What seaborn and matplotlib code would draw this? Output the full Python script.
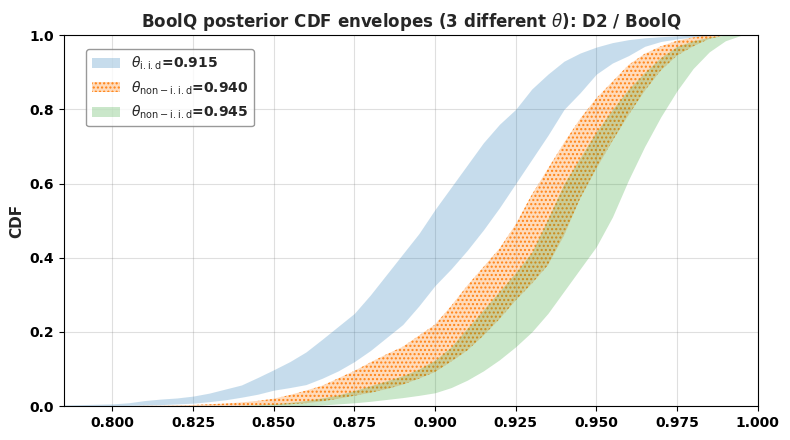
import numpy as np
import matplotlib
matplotlib.use("Agg")
import matplotlib.pyplot as plt
import seaborn as sns
from matplotlib.colors import to_rgba

# grille des seuils
x_grid = [0.785, 0.790, 0.795, 0.800, 0.805, 0.810, 0.815, 0.820, 0.825, 0.830,
          0.835, 0.840, 0.845, 0.850, 0.855, 0.860, 0.865, 0.870, 0.875, 0.880,
          0.885, 0.890, 0.895, 0.900, 0.905, 0.910, 0.915, 0.920, 0.925, 0.930,
          0.935, 0.940, 0.945, 0.950, 0.955, 0.960, 0.965, 0.970, 0.975, 0.980,
          0.985, 0.990, 0.995, 1.000]

iid_hi = [0.003, 0.004, 0.005, 0.006, 0.009, 0.015, 0.019, 0.022, 0.027, 0.035,
          0.046, 0.057, 0.077, 0.098, 0.120, 0.146, 0.180, 0.215, 0.250, 0.300,
          0.355, 0.410, 0.465, 0.530, 0.590, 0.650, 0.710, 0.760, 0.800, 0.855,
          0.895, 0.930, 0.952, 0.968, 0.980, 0.988, 0.993, 0.996, 0.998, 1.000,
          1.000, 1.000, 1.000, 1.000]
iid_lo = [0.000, 0.000, 0.001, 0.001, 0.002, 0.003, 0.004, 0.006, 0.008, 0.012,
          0.017, 0.024, 0.032, 0.043, 0.050, 0.058, 0.075, 0.095, 0.120, 0.150,
          0.185, 0.220, 0.270, 0.325, 0.370, 0.420, 0.475, 0.535, 0.600, 0.665,
          0.730, 0.800, 0.845, 0.895, 0.925, 0.945, 0.970, 0.983, 0.990, 0.995,
          0.999, 1.000, 1.000, 1.000]

n940_hi = [0.000, 0.000, 0.000, 0.000, 0.000, 0.001, 0.001, 0.002, 0.003, 0.005,
           0.007, 0.010, 0.014, 0.020, 0.030, 0.042, 0.055, 0.075, 0.095, 0.118,
           0.140, 0.160, 0.190, 0.220, 0.270, 0.325, 0.375, 0.425, 0.490, 0.570,
           0.640, 0.710, 0.775, 0.830, 0.875, 0.920, 0.950, 0.970, 0.985, 0.994,
           1.000, 1.000, 1.000, 1.000]
n940_lo = [0.000, 0.000, 0.000, 0.000, 0.000, 0.000, 0.000, 0.000, 0.000, 0.000,
           0.001, 0.001, 0.002, 0.003, 0.005, 0.008, 0.013, 0.020, 0.028, 0.036,
           0.046, 0.058, 0.074, 0.092, 0.120, 0.150, 0.190, 0.235, 0.285, 0.330,
           0.380, 0.460, 0.560, 0.640, 0.715, 0.785, 0.850, 0.905, 0.945, 0.970,
           0.990, 1.000, 1.000, 1.000]

n945_hi = [0.000, 0.000, 0.000, 0.000, 0.000, 0.000, 0.000, 0.000, 0.000, 0.000,
           0.001, 0.002, 0.004, 0.006, 0.010, 0.015, 0.022, 0.030, 0.042, 0.055,
           0.068, 0.082, 0.100, 0.124, 0.160, 0.210, 0.260, 0.310, 0.360, 0.415,
           0.505, 0.600, 0.670, 0.740, 0.800, 0.855, 0.900, 0.940, 0.970, 0.985,
           0.995, 1.000, 1.000, 1.000]
n945_lo = [0.000, 0.000, 0.000, 0.000, 0.000, 0.000, 0.000, 0.000, 0.000, 0.000,
           0.000, 0.000, 0.000, 0.000, 0.000, 0.001, 0.003, 0.006, 0.009, 0.013,
           0.018, 0.023, 0.029, 0.036, 0.050, 0.070, 0.095, 0.125, 0.160, 0.200,
           0.250, 0.310, 0.370, 0.430, 0.510, 0.610, 0.700, 0.780, 0.850, 0.910,
           0.955, 0.985, 1.000, 1.000]

labels = [r'$\theta_{\mathrm{i.i.d}}$=0.915',
          r'$\theta_{\mathrm{non-i.i.d}}$=0.940',
          r'$\theta_{\mathrm{non-i.i.d}}$=0.945']

sns.set_style("ticks")
plt.rcParams['font.family'] = ['DejaVu Sans']

fig = plt.figure(figsize=(7.9, 4.4), dpi=100)
ax = fig.add_axes([0.081, 0.077, 0.878, 0.843])

blue, orange, green = sns.color_palette("tab10")[:3]
x = np.array(x_grid)

ax.fill_between(x, iid_lo, iid_hi, color=blue, alpha=0.25, linewidth=0, label=labels[0])
ax.fill_between(x, n940_lo, n940_hi, facecolor=to_rgba(orange, 0.28),
                edgecolor=to_rgba(orange, 0.95), hatch='....', linewidth=0, label=labels[1])
ax.fill_between(x, n945_lo, n945_hi, color=green, alpha=0.25, linewidth=0, label=labels[2])

ax.set_xlim(0.785, 1.0)
ax.set_ylim(0, 1)
ax.set_xticks([0.800, 0.825, 0.850, 0.875, 0.900, 0.925, 0.950, 0.975, 1.000])
ax.set_yticks([0.0, 0.2, 0.4, 0.6, 0.8, 1.0])
ax.grid(True, color='gray', alpha=0.25, linewidth=0.8)
for s in ax.spines.values():
    s.set_color('black')
ax.tick_params(colors='black', labelsize=10)
for lab in ax.get_xticklabels() + ax.get_yticklabels():
    lab.set_fontweight('bold')

ax.set_ylabel('CDF', fontsize=11, fontweight='bold')
ax.set_title(r'BoolQ posterior CDF envelopes (3 different $\theta$): D2 / BoolQ',
             fontsize=12, fontweight='bold')

leg = ax.legend(loc='upper left', bbox_to_anchor=(0.032, 0.962), borderaxespad=0,
                prop={'weight': 'bold', 'size': 10}, frameon=True)
leg.get_frame().set_edgecolor('gray')

fig.savefig('out.png', dpi=100)
